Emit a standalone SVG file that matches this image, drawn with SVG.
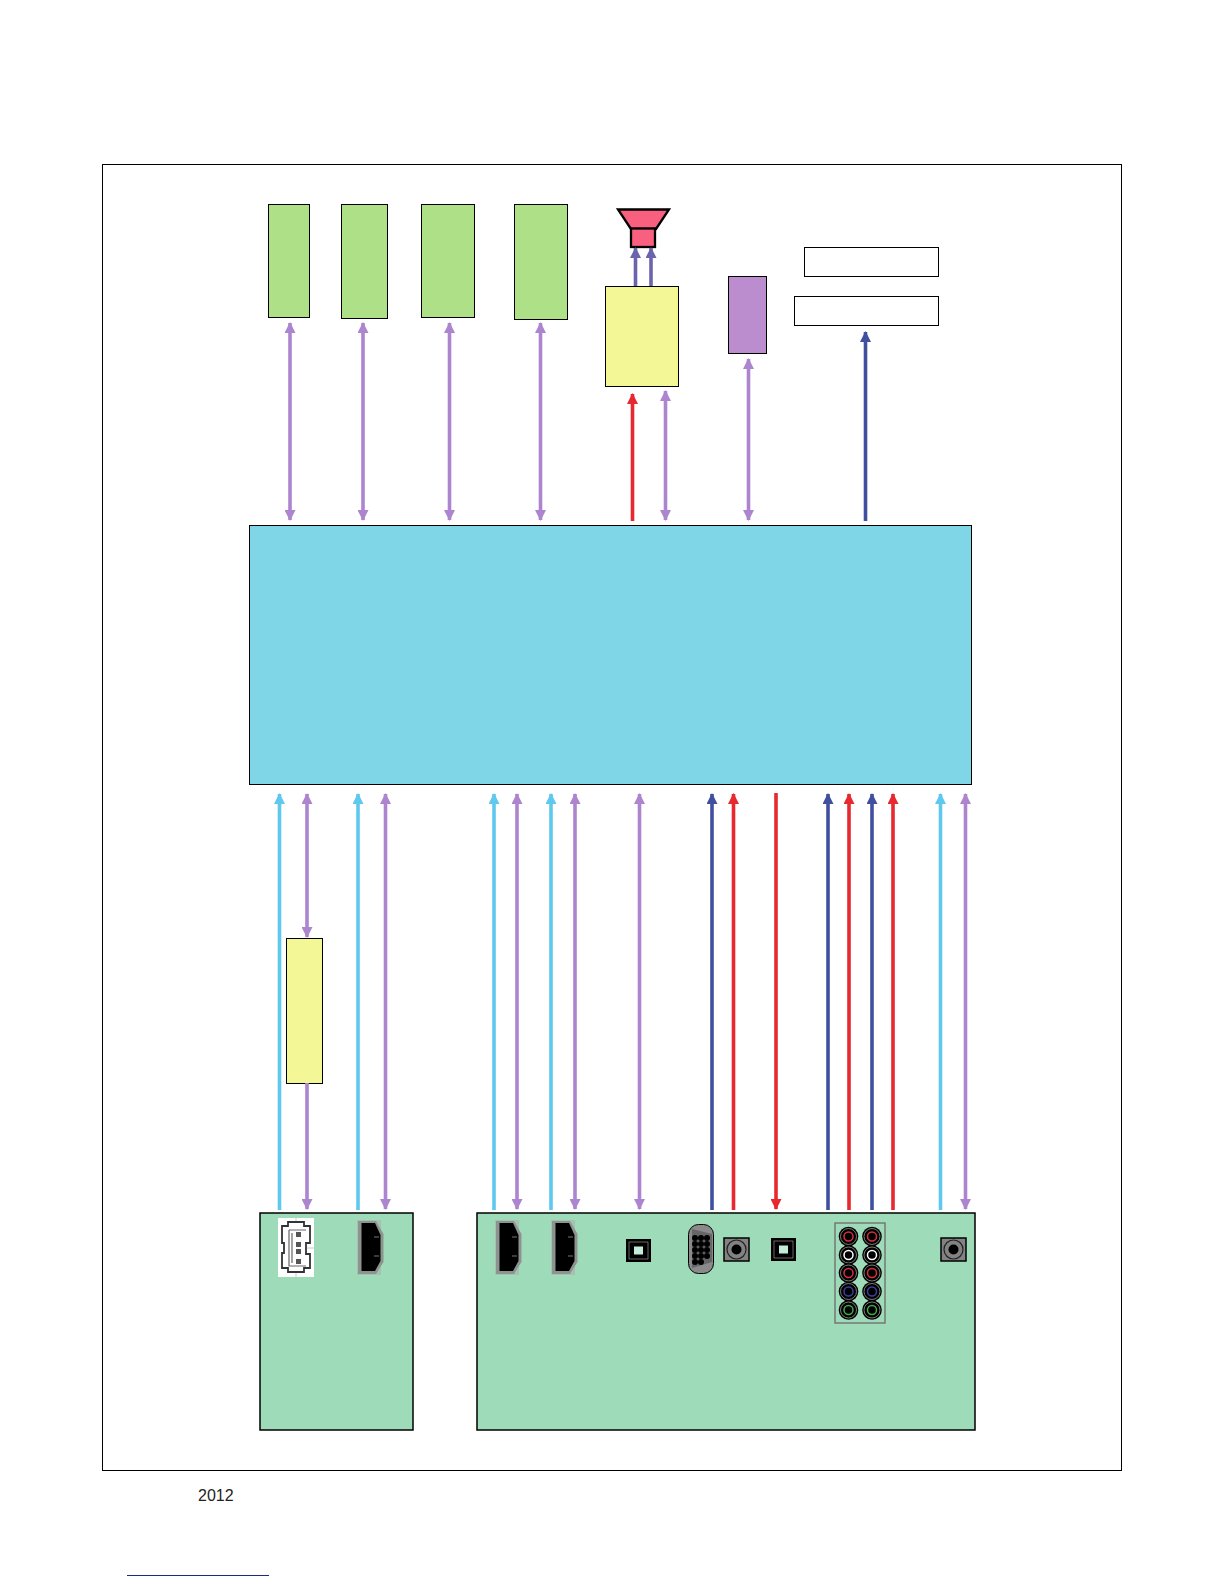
<svg xmlns="http://www.w3.org/2000/svg" width="1224" height="1584" viewBox="0 0 1224 1584">
<style>
.box{stroke:#000;stroke-width:1}
.g{fill:#aee087}.y{fill:#f3f796}.b{fill:#7fd6e6}.m{fill:#9edcb9;stroke:#000;stroke-width:1.5}
.p{stroke:#ad85cf}.c{stroke:#5ec8ee}.n{stroke:#40509f}.r{stroke:#e8282f}.v{stroke:#6a64ac}
#connectors line{stroke-width:3.6;fill:none}
.sp{fill:#828282;stroke:#000;stroke-width:1.5}
</style>
<defs>
<marker id="ap" viewBox="0 0 11 11" refX="10" refY="5.500" markerUnits="userSpaceOnUse" markerWidth="11" markerHeight="11" orient="auto-start-reverse"><path d="M0 0L11 5.500L0 11Z" fill="#ad85cf"/></marker>
<marker id="ac" viewBox="0 0 11 11" refX="10" refY="5.500" markerUnits="userSpaceOnUse" markerWidth="11" markerHeight="11" orient="auto-start-reverse"><path d="M0 0L11 5.500L0 11Z" fill="#5ec8ee"/></marker>
<marker id="an" viewBox="0 0 11 11" refX="10" refY="5.500" markerUnits="userSpaceOnUse" markerWidth="11" markerHeight="11" orient="auto-start-reverse"><path d="M0 0L11 5.500L0 11Z" fill="#40509f"/></marker>
<marker id="ar" viewBox="0 0 11 11" refX="10" refY="5.500" markerUnits="userSpaceOnUse" markerWidth="11" markerHeight="11" orient="auto-start-reverse"><path d="M0 0L11 5.500L0 11Z" fill="#e8282f"/></marker>
<marker id="av" viewBox="0 0 11 11" refX="10" refY="5.500" markerUnits="userSpaceOnUse" markerWidth="11" markerHeight="11" orient="auto-start-reverse"><path d="M0 0L11 5.500L0 11Z" fill="#6a64ac"/></marker>
<g id="hdmi"><path d="M0 0H24V55H0Z" fill="#a9b3af" opacity=".7"/><path d="M1 1H19L26.500 14V42L19 54H1Z" fill="#8d9490"/><path d="M4.500 3H18L23.500 15V41L18 51H4.500Z" fill="#000"/><path d="M17 17h5M17 36h5" stroke="#777" stroke-width="1"/></g>
<g id="opt"><rect x="0" y="0" width="25" height="23" fill="#000"/><rect x="3" y="3" width="19" height="17" fill="none" stroke="#aaa" stroke-width=".6"/><rect x="8" y="7.500" width="9" height="8" fill="#c5ecd8"/></g>
<g id="aud"><rect x="0" y="0" width="25" height="23" class="sp"/><circle cx="12.500" cy="11.500" r="9.500" fill="none" stroke="#222" stroke-width="1.200"/><circle cx="12.500" cy="11.500" r="5" fill="#000"/></g>
<g id="rca"><circle r="9.800" fill="#000"/><circle r="8" fill="none" stroke="#999" stroke-width=".8"/></g>
</defs>
<rect width="1224" height="1584" fill="#fff"/>
<rect id="frame" x="102.500" y="164.500" width="1019" height="1306" fill="none" stroke="#000" stroke-width="1"/>
<g id="node-g1"><rect class="box g" x="268.500" y="204.500" width="41" height="113"/></g>
<g id="node-g2"><rect class="box g" x="341.500" y="204.500" width="46" height="114"/></g>
<g id="node-g3"><rect class="box g" x="421.500" y="204.500" width="53" height="113"/></g>
<g id="node-g4"><rect class="box g" x="514.500" y="204.500" width="53" height="115"/></g>
<g id="node-speaker"><path d="M618 209.500H669L656 229H631Z" fill="#f9607f" stroke="#000" stroke-width="2.300"/><rect x="631" y="228.500" width="24" height="18.500" fill="#f9607f" stroke="#000" stroke-width="2.300"/></g>
<g id="node-amp"><rect class="box y" x="605.500" y="286.500" width="73" height="100"/></g>
<g id="node-purple"><rect class="box" fill="#bb8dce" x="728.500" y="276.500" width="38" height="77"/></g>
<g id="node-w1"><rect class="box" fill="#fff" x="804.500" y="247.500" width="134" height="29"/></g>
<g id="node-w2"><rect class="box" fill="#fff" x="794.500" y="296.500" width="144" height="29"/></g>
<g id="node-main"><rect class="box b" x="249.500" y="525.500" width="722" height="259"/></g>
<g id="node-y2"><rect class="box y" x="286.500" y="938.500" width="36" height="145"/></g>
<g id="node-panel1"><rect class="m" x="260" y="1213" width="153" height="217"/>
<rect x="278" y="1218" width="36" height="59" fill="#fff"/>
<path d="M283 1248H293M304 1248H314M296 1218V1222M296 1272V1277" stroke="#bbb" stroke-width=".8" fill="none"/>
<path d="M288 1222H304V1226H310V1243H306V1254H310V1268H304V1272H288V1268H282V1253H284V1243H282V1226H288Z" fill="#fff" stroke="#333" stroke-width="1.800"/>
<path d="M289 1230H306M289 1230V1266H306M292 1233V1263" fill="none" stroke="#666" stroke-width="1.200"/>
<path d="M296 1232h5v5h-5zM296 1242h5v5h-5zM296 1249h5v5h-5zM296 1259h5v5h-5z" fill="#555"/>
<use href="#hdmi" x="357" y="1220"/></g>
<g id="node-panel2"><rect class="m" x="477" y="1213" width="498" height="217"/>
<use href="#hdmi" x="495" y="1220"/><use href="#hdmi" x="551" y="1220"/>
<use href="#opt" x="626" y="1239"/>
<rect x="688.500" y="1224.500" width="25" height="49" rx="10" fill="#8a8a8a" stroke="#000" stroke-width="1"/>
<path d="M692 1229L712 1234V1262L692 1268Z" fill="#666"/>
<g fill="#000"><circle cx="695" cy="1238" r="3"/><circle cx="701" cy="1238" r="3"/><circle cx="707" cy="1238" r="3"/><circle cx="695" cy="1244" r="3"/><circle cx="701" cy="1244" r="3"/><circle cx="707" cy="1244" r="3"/><circle cx="695" cy="1250" r="3"/><circle cx="701" cy="1250" r="3"/><circle cx="707" cy="1250" r="3"/><circle cx="695" cy="1256" r="3"/><circle cx="701" cy="1256" r="3"/><circle cx="707" cy="1256" r="3"/><circle cx="695" cy="1262" r="3"/><circle cx="701" cy="1262" r="3"/></g>
<use href="#aud" x="724" y="1238"/>
<use href="#opt" x="771" y="1238"/>
<rect x="835" y="1223" width="50" height="100" fill="none" stroke="#777" stroke-width="1.500"/>
<g fill="none" stroke-width="1.500">
<use href="#rca" x="848.500" y="1236.500"/><use href="#rca" x="872" y="1236.500"/><circle cx="848.500" cy="1236.500" r="4.500" stroke="#d9303a"/><circle cx="872" cy="1236.500" r="4.500" stroke="#d9303a"/>
<use href="#rca" x="848.500" y="1255"/><use href="#rca" x="872" y="1255"/><circle cx="848.500" cy="1255" r="4.500" stroke="#fff"/><circle cx="872" cy="1255" r="4.500" stroke="#fff"/>
<use href="#rca" x="848.500" y="1273"/><use href="#rca" x="872" y="1273"/><circle cx="848.500" cy="1273" r="4.500" stroke="#d9303a"/><circle cx="872" cy="1273" r="4.500" stroke="#d9303a"/>
<use href="#rca" x="848.500" y="1291.500"/><use href="#rca" x="872" y="1291.500"/><circle cx="848.500" cy="1291.500" r="4.500" stroke="#3a3fa0"/><circle cx="872" cy="1291.500" r="4.500" stroke="#3a3fa0"/>
<use href="#rca" x="848.500" y="1310"/><use href="#rca" x="872" y="1310"/><circle cx="848.500" cy="1310" r="4.500" stroke="#3fae45"/><circle cx="872" cy="1310" r="4.500" stroke="#3fae45"/>
</g>
<use href="#aud" x="941" y="1238"/></g>
<g id="connectors">
<line class="p" x1="290" y1="323" x2="290" y2="520" marker-start="url(#ap)" marker-end="url(#ap)"/>
<line class="p" x1="363" y1="323" x2="363" y2="520" marker-start="url(#ap)" marker-end="url(#ap)"/>
<line class="p" x1="449.500" y1="323" x2="449.500" y2="520" marker-start="url(#ap)" marker-end="url(#ap)"/>
<line class="p" x1="540.500" y1="323" x2="540.500" y2="520" marker-start="url(#ap)" marker-end="url(#ap)"/>
<line class="v" x1="635.500" y1="286" x2="635.500" y2="248" marker-end="url(#av)"/>
<line class="v" x1="651" y1="286" x2="651" y2="248" marker-end="url(#av)"/>
<line class="r" x1="632.500" y1="521" x2="632.500" y2="394" marker-end="url(#ar)"/>
<line class="p" x1="665.500" y1="391" x2="665.500" y2="520" marker-start="url(#ap)" marker-end="url(#ap)"/>
<line class="p" x1="748.500" y1="359" x2="748.500" y2="520" marker-start="url(#ap)" marker-end="url(#ap)"/>
<line class="n" x1="865.500" y1="521" x2="865.500" y2="332" marker-end="url(#an)"/>
<line class="c" x1="279.500" y1="1210" x2="279.500" y2="794" marker-end="url(#ac)"/>
<line class="p" x1="307" y1="794" x2="307" y2="937" marker-start="url(#ap)" marker-end="url(#ap)"/>
<line class="p" x1="307" y1="1083" x2="307" y2="1209" marker-end="url(#ap)"/>
<line class="c" x1="358" y1="1210" x2="358" y2="794" marker-end="url(#ac)"/>
<line class="p" x1="385.500" y1="794" x2="385.500" y2="1209" marker-start="url(#ap)" marker-end="url(#ap)"/>
<line class="c" x1="494" y1="1210" x2="494" y2="794" marker-end="url(#ac)"/>
<line class="p" x1="517" y1="794" x2="517" y2="1209" marker-start="url(#ap)" marker-end="url(#ap)"/>
<line class="c" x1="551" y1="1210" x2="551" y2="794" marker-end="url(#ac)"/>
<line class="p" x1="575" y1="794" x2="575" y2="1209" marker-start="url(#ap)" marker-end="url(#ap)"/>
<line class="p" x1="639.500" y1="794" x2="639.500" y2="1209" marker-start="url(#ap)" marker-end="url(#ap)"/>
<line class="n" x1="712" y1="1210" x2="712" y2="794" marker-end="url(#an)"/>
<line class="r" x1="733.500" y1="1210" x2="733.500" y2="794" marker-end="url(#ar)"/>
<line class="r" x1="776" y1="793" x2="776" y2="1209" marker-end="url(#ar)"/>
<line class="n" x1="828" y1="1210" x2="828" y2="794" marker-end="url(#an)"/>
<line class="r" x1="849" y1="1210" x2="849" y2="794" marker-end="url(#ar)"/>
<line class="n" x1="872" y1="1210" x2="872" y2="794" marker-end="url(#an)"/>
<line class="r" x1="893" y1="1210" x2="893" y2="794" marker-end="url(#ar)"/>
<line class="c" x1="940.500" y1="1210" x2="940.500" y2="794" marker-end="url(#ac)"/>
<line class="p" x1="965.500" y1="794" x2="965.500" y2="1209" marker-start="url(#ap)" marker-end="url(#ap)"/>
</g>
<text x="198" y="1501" font-family="'Liberation Sans',Arial,sans-serif" font-size="16" fill="#222">2012</text>
<line x1="127" y1="1575.500" x2="269" y2="1575.500" stroke="#1a2a8a" stroke-width="1"/>
</svg>
